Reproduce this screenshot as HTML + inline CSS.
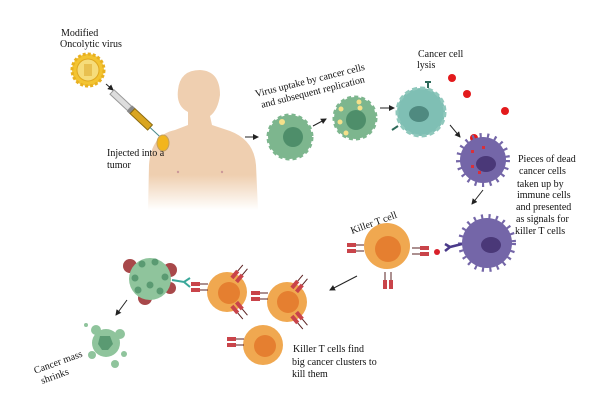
<!DOCTYPE html>
<html><head><meta charset="utf-8"><style>
html,body{margin:0;padding:0;background:#fff;width:610px;height:417px;overflow:hidden}
text{font-family:"Liberation Serif",serif;font-size:10px;fill:#111}
</style></head><body>
<svg width="610" height="417" viewBox="0 0 610 417" xmlns="http://www.w3.org/2000/svg">
<defs>
<marker id="a" markerWidth="6" markerHeight="6" refX="5" refY="3" orient="auto"><path d="M0,0L6,3L0,6z" fill="#222"/></marker>
<linearGradient id="sk" x1="0" y1="0" x2="0" y2="1"><stop offset="0.75" stop-color="#efcfb0"/><stop offset="1" stop-color="#fff"/></linearGradient>
<g id="rec"><rect x="-9" y="-5" width="9" height="4" fill="#c9444a"/><rect x="-9" y="1" width="9" height="4" fill="#c9444a"/><line x1="0" y1="-3" x2="8" y2="-3" stroke="#5a2020"/><line x1="0" y1="3" x2="8" y2="3" stroke="#5a2020"/></g>
</defs>

<!-- virus -->
<circle cx="88" cy="70" r="16" fill="#f3c431" stroke="#e8b020" stroke-width="3" stroke-dasharray="3 2"/>
<circle cx="88" cy="70" r="11" fill="#f6dc7a" stroke="#e0a820"/>
<rect x="84" y="64" width="8" height="12" fill="#e8c050"/>
<text x="61" y="36">Modified</text>
<text x="60" y="47">Oncolytic virus</text>
<line x1="106" y1="84" x2="113" y2="90" stroke="#222" marker-end="url(#a)"/>

<!-- human -->
<path d="M148,210 L149,165 Q151,135 175,130 L188,125 L188,112 Q176,106 178,90 Q180,70 200,70 Q220,71 220,95 Q218,110 210,116 L212,125 L230,131 Q254,140 256,165 L258,210 Z" fill="url(#sk)"/>
<circle cx="178" cy="172" r="1.2" fill="#c99"/><circle cx="222" cy="172" r="1.2" fill="#c99"/>
<!-- syringe -->
<g transform="translate(112,92) rotate(43)">
<rect x="0" y="-3" width="24" height="6" fill="#ddd" stroke="#999"/>
<rect x="24" y="-4" width="4" height="8" fill="#888"/>
<rect x="28" y="-3.5" width="24" height="7" fill="#d9a520" stroke="#8a6a10"/>
<line x1="52" y1="0" x2="66" y2="0" stroke="#4a8a8a"/>
</g>
<ellipse cx="163" cy="143" rx="6" ry="8" fill="#f2b51d" stroke="#c4a060"/>
<text x="107" y="156">Injected into a</text>
<text x="107" y="168">tumor</text>
<line x1="245" y1="137" x2="258" y2="137" stroke="#222" marker-end="url(#a)"/>

<!-- green cells -->
<circle cx="290" cy="137" r="22" fill="#7db68e" stroke="#7db68e" stroke-width="3" stroke-dasharray="4 3"/>
<circle cx="293" cy="137" r="10" fill="#4e8e6a"/>
<circle cx="282" cy="122" r="3" fill="#f5e08a"/>
<g transform="rotate(-14 256 97)"><text x="256" y="97">Virus uptake by cancer cells</text><text x="259" y="109">and subsequent replication</text></g>
<line x1="313" y1="126" x2="326" y2="119" stroke="#222" marker-end="url(#a)"/>
<circle cx="355" cy="118" r="21" fill="#7db68e" stroke="#7db68e" stroke-width="3" stroke-dasharray="4 3"/>
<circle cx="356" cy="120" r="10" fill="#4e8e6a"/>
<g fill="#f5e08a"><circle cx="359" cy="102" r="2.5"/><circle cx="341" cy="109" r="2.5"/><circle cx="360" cy="108" r="2.5"/><circle cx="340" cy="122" r="2.5"/><circle cx="346" cy="133" r="2.5"/></g>
<line x1="380" y1="108" x2="394" y2="108" stroke="#222" marker-end="url(#a)"/>

<!-- lysis cell -->
<circle cx="421" cy="112" r="24" fill="#7fbfb4" stroke="#8fc8bc" stroke-width="3" stroke-dasharray="5 3"/>
<ellipse cx="419" cy="114" rx="10" ry="8" fill="#4f8a80"/>
<path d="M428,88 v-6 m-3,0 h6" stroke="#2e6a5a" stroke-width="2" fill="none"/>
<path d="M398,126 l-6,4" stroke="#2e6a5a" stroke-width="2"/>
<text x="418" y="57">Cancer cell</text>
<text x="417" y="68">lysis</text>
<g fill="#e31a1c"><circle cx="452" cy="78" r="4"/><circle cx="467" cy="94" r="4"/><circle cx="505" cy="111" r="4"/><circle cx="474" cy="138" r="4"/></g>
<line x1="450" y1="125" x2="460" y2="137" stroke="#222" marker-end="url(#a)"/>

<!-- dendritic cells -->
<circle cx="483" cy="160" r="23" fill="#7466a8" stroke="#7466a8" stroke-width="8" stroke-dasharray="2 5"/>
<ellipse cx="486" cy="164" rx="10" ry="8" fill="#4a3878"/>
<g fill="#d9303a"><rect x="471" y="150" width="3" height="3"/><rect x="482" y="146" width="3" height="3"/><rect x="471" y="165" width="3" height="3"/><rect x="478" y="171" width="3" height="3"/></g>
<line x1="483" y1="190" x2="472" y2="204" stroke="#222" marker-end="url(#a)"/>
<circle cx="487" cy="243" r="25" fill="#7466a8" stroke="#7466a8" stroke-width="8" stroke-dasharray="2 5"/>
<ellipse cx="491" cy="245" rx="10" ry="8" fill="#4a3878"/>
<path d="M462,244 l-12,3 m0,0 l-5,-3 m5,3 l-5,4" stroke="#4a3a8a" stroke-width="2.5" fill="none"/>
<g font-size="10"><text x="518" y="162">Pieces of dead</text><text x="519" y="174">cancer cells</text><text x="517" y="187">taken up by</text><text x="517" y="198">immune cells</text><text x="516" y="210">and presented</text><text x="516" y="222">as signals for</text><text x="515" y="234">killer T cells</text></g>

<!-- killer T cell -->
<text x="352" y="234" transform="rotate(-20 352 234)">Killer T cell</text>
<circle cx="387" cy="246" r="23" fill="#f0a850"/>
<circle cx="388" cy="249" r="13" fill="#e57f30"/>
<use href="#rec" transform="translate(356,248)"/>
<use href="#rec" transform="translate(420,251) rotate(180)"/>
<use href="#rec" transform="translate(388,280) rotate(-90)"/>
<circle cx="437" cy="252" r="3" fill="#d9202a"/>
<line x1="357" y1="276" x2="330" y2="290" stroke="#222" marker-end="url(#a)"/>

<!-- lower T cells -->
<circle cx="227" cy="292" r="20" fill="#f0a850"/><circle cx="229" cy="293" r="11" fill="#e57f30"/>
<use href="#rec" transform="translate(200,287)"/>
<use href="#rec" transform="translate(240,273) rotate(-50)"/>
<use href="#rec" transform="translate(240,311) rotate(50)"/>
<circle cx="287" cy="302" r="20" fill="#f0a850"/><circle cx="288" cy="302" r="11" fill="#e57f30"/>
<use href="#rec" transform="translate(260,296)"/>
<use href="#rec" transform="translate(300,283) rotate(-50)"/>
<use href="#rec" transform="translate(300,321) rotate(50)"/>
<circle cx="263" cy="345" r="20" fill="#f0a850"/><circle cx="265" cy="346" r="11" fill="#e57f30"/>
<use href="#rec" transform="translate(236,342)"/>
<text x="293" y="352">Killer T cells find</text>
<text x="292" y="365">big cancer clusters to</text>
<text x="292" y="377">kill them</text>

<!-- cluster -->
<g>
<circle cx="130" cy="266" r="7" fill="#a8484a"/><circle cx="170" cy="270" r="7" fill="#a8484a"/><circle cx="145" cy="298" r="7" fill="#a8484a"/><circle cx="170" cy="288" r="6" fill="#a8484a"/>
<circle cx="150" cy="279" r="21" fill="#8fc49c"/>
<g fill="#5a9a72"><circle cx="142" cy="264" r="3.5"/><circle cx="155" cy="262" r="3.5"/><circle cx="135" cy="278" r="3.5"/><circle cx="165" cy="277" r="3.5"/><circle cx="150" cy="285" r="3.5"/><circle cx="138" cy="290" r="3.5"/><circle cx="160" cy="291" r="3.5"/></g>
<path d="M172,280 l12,2 l6,-4 m-6,4 l6,5" stroke="#3aa89a" stroke-width="2" fill="none"/>
</g>
<line x1="127" y1="300" x2="116" y2="315" stroke="#222" marker-end="url(#a)"/>
<g fill="#8fc49c"><circle cx="106" cy="343" r="14"/><circle cx="96" cy="330" r="5"/><circle cx="120" cy="334" r="5"/><circle cx="92" cy="355" r="4"/><circle cx="115" cy="364" r="4"/><circle cx="86" cy="325" r="2"/><circle cx="124" cy="354" r="3"/></g>
<path d="M100,336 h10 l3,8 l-5,6 h-6 l-4,-6z" fill="#5a9a72"/>
<g transform="rotate(-20 40 372)"><text x="35" y="372">Cancer mass</text><text x="38" y="384">shrinks</text></g>
</svg>
</body></html>
